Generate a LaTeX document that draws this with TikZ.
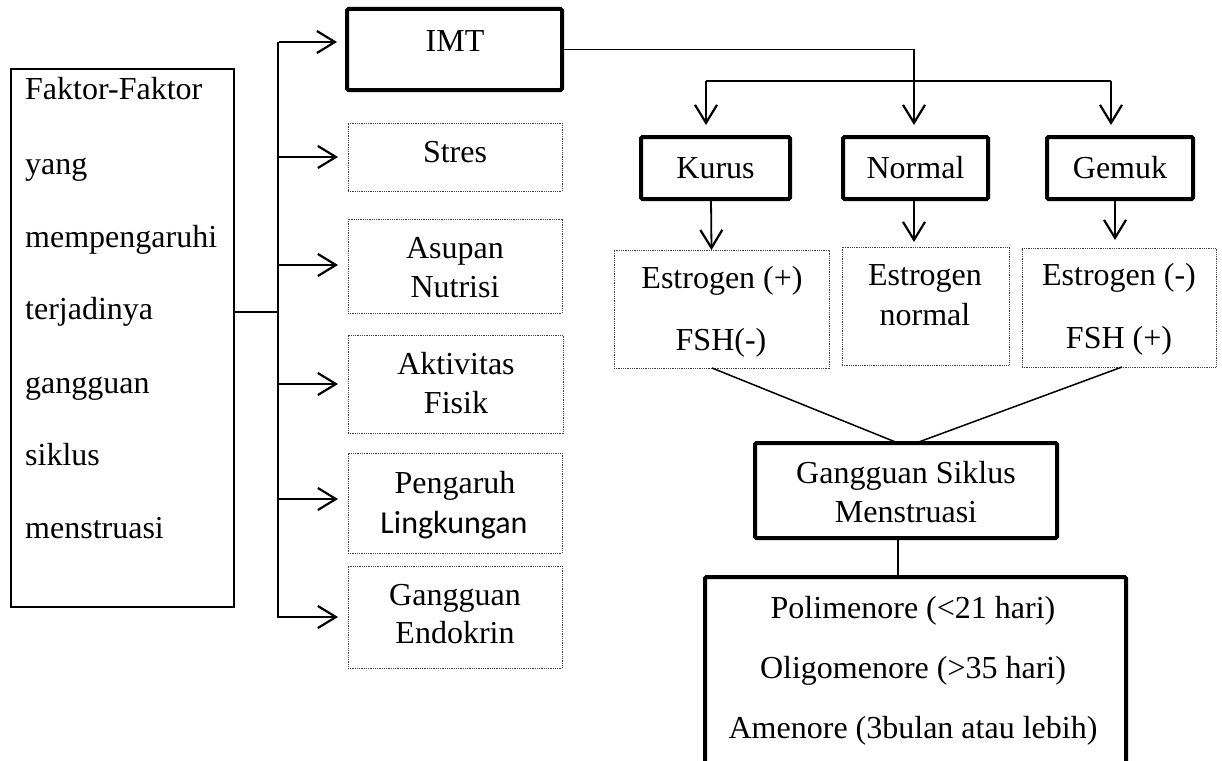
\documentclass[tikz,border=0pt]{standalone}
\usepackage{fontspec}
\setmainfont{Liberation Serif}
\newfontfamily\calibri{Carlito}
\usetikzlibrary{arrows.meta}
\begin{document}
\begin{tikzpicture}[x=1pt,y=-1pt,
  thickbox/.style={draw,line width=4pt,rounded corners=1.5pt,inner sep=0pt,outer sep=0pt},
  thinbox/.style={draw,line width=1.8pt,inner sep=0pt,outer sep=0pt},
  dotbox/.style={draw=black!75,line width=0.9pt,dash pattern=on 1pt off 0.8pt,inner sep=0pt,outer sep=0pt},
  txt/.style={anchor=base,inner sep=0pt,font=\fontsize{32}{38}\selectfont},
  ltxt/.style={anchor=base west,inner sep=0pt,font=\fontsize{32}{38}\selectfont},
  ln/.style={line width=1.8pt},
  dln/.style={line width=1.5pt},
  arr/.style={line width=1.8pt,-{Straight Barb[length=18pt,width=22pt,line width=2.2pt]}}
]
\useasboundingbox (0,0) rectangle (1222,760);
\clip (0,0) rectangle (1222,760);

% left box
\node[thinbox,minimum width=223pt,minimum height=538pt] (fak) at (122.5,338) {};
\foreach \t/\y [count=\i] in {Faktor-Faktor/99,yang/174,mempengaruhi/247,terjadinya/319,gangguan/393,siklus/465,menstruasi/538}
  \node[ltxt] (f\i) at (25,\y) {\t};

% factor boxes
\node[thickbox,minimum width=215pt,minimum height=81pt] (imt) at (454.5,49.5) {};
\node[txt] (imtt) at (455,52) {IMT};
\node[dotbox,minimum width=214pt,minimum height=68pt] (stres) at (455,157) {};
\node[txt] (strest) at (455,162) {Stres};
\node[dotbox,minimum width=214pt,minimum height=94pt] (asupan) at (455,266) {};
\node[txt] (asupant1) at (455,258) {Asupan};
\node[txt] (asupant2) at (455,297) {Nutrisi};
\node[dotbox,minimum width=215pt,minimum height=98pt] (aktiv) at (455.5,384) {};
\node[txt] (aktivt1) at (456,374) {Aktivitas};
\node[txt] (aktivt2) at (456,413) {Fisik};
\node[dotbox,minimum width=214pt,minimum height=100pt] (peng) at (455,503) {};
\node[txt] (pengt1) at (455,493) {Pengaruh};
\node[txt,font=\fontsize{32}{38}\calibri] (pengt2) at (454,533) {Lingkungan};
\node[dotbox,minimum width=214pt,minimum height=102pt] (endo) at (455,617) {};
\node[txt] (endot1) at (455,605) {Gangguan};
\node[txt] (endot2) at (455,643) {Endokrin};

% bus
\coordinate (btop) at (278,42);
\coordinate (bbot) at (278,618);
\coordinate (b0) at (278,312);
\draw[ln] (btop) -- (bbot);
\draw[ln] (fak.east |- b0) -- (b0);
\foreach \n/\y in {imt/42,stres/157,asupan/265,aktiv/384,peng/499,endo/617}{
  \coordinate (a\n) at (279,\y);
  \draw[arr,shorten >=10pt] (a\n) -- (a\n -| \n.west);
}

% IMT categories
\node[thickbox,minimum width=149pt,minimum height=62pt] (kurus) at (715.5,168) {};
\node[txt] (kurust) at (715.5,178) {Kurus};
\node[thickbox,minimum width=145pt,minimum height=62pt] (normal) at (915.5,168) {};
\node[txt] (normalt) at (915.5,178) {Normal};
\node[thickbox,minimum width=146pt,minimum height=62pt] (gemuk) at (1120,168) {};
\node[txt] (gemukt) at (1120,178) {Gemuk};

\coordinate (j) at (914,49.5);
\draw[arr,shorten >=12pt] (imt.east) -- (j) -- (j |- normal.north);
\coordinate (dk) at (706,81);
\coordinate (dg) at (1111,81);
\draw[ln] (dk) -- (dg);
\draw[arr,shorten >=12pt] (dk) -- (dk |- kurus.north);
\draw[arr,shorten >=12pt] (dg) -- (dg |- gemuk.north);

% hormone boxes
\node[dotbox,minimum width=215pt,minimum height=118pt] (kest) at (721.5,309) {};
\node[txt] (kestt1) at (722,288) {Estrogen (+)};
\node[txt] (kestt2) at (721,350) {FSH(-)};
\node[dotbox,minimum width=167pt,minimum height=118pt] (nest) at (925.5,306) {};
\node[txt] (nestt1) at (925,285) {Estrogen};
\node[txt] (nestt2) at (925,325) {normal};
\node[dotbox,minimum width=194pt,minimum height=119pt] (gest) at (1119,307.5) {};
\node[txt] (gestt1) at (1119,285) {Estrogen (-)};
\node[txt] (gestt2) at (1119,348) {FSH (+)};

\draw[arr] ([xshift=-4.5pt]kurus.south) -- ([xshift=-10pt]kest.north);
\draw[arr,shorten >=5pt] ([xshift=-1.5pt]normal.south) -- ([xshift=-11.5pt]nest.north);
\draw[arr,shorten >=8pt] ([xshift=-5pt]gemuk.south) -- ([xshift=-4pt]gest.north);

% disorder
\node[thickbox,minimum width=302pt,minimum height=95pt] (gsm) at (906,490.5) {};
\node[txt] (gsmt1) at (906,483) {Gangguan Siklus};
\node[txt] (gsmt2) at (906,522) {Menstruasi};
\node[thickbox,minimum width=421pt,minimum height=213pt] (bot) at (915.5,683.5) {};
\node[txt] (bott1) at (913,618) {Polimenore (<21 hari)};
\node[txt] (bott2) at (913,678) {Oligomenore (>35 hari)};
\node[txt] (bott3) at (913,738) {Amenore (3bulan atau lebih)};

\draw[dln,shorten >=3pt] ([xshift=-9.5pt]kest.south) -- ([xshift=-8pt]gsm.north);
\draw[dln,shorten >=3pt] ([xshift=3pt]gest.south) -- ([xshift=10pt]gsm.north);
\draw[ln] ([xshift=-8pt]gsm.south) -- ([xshift=-17.5pt]bot.north);
\end{tikzpicture}
\end{document}
